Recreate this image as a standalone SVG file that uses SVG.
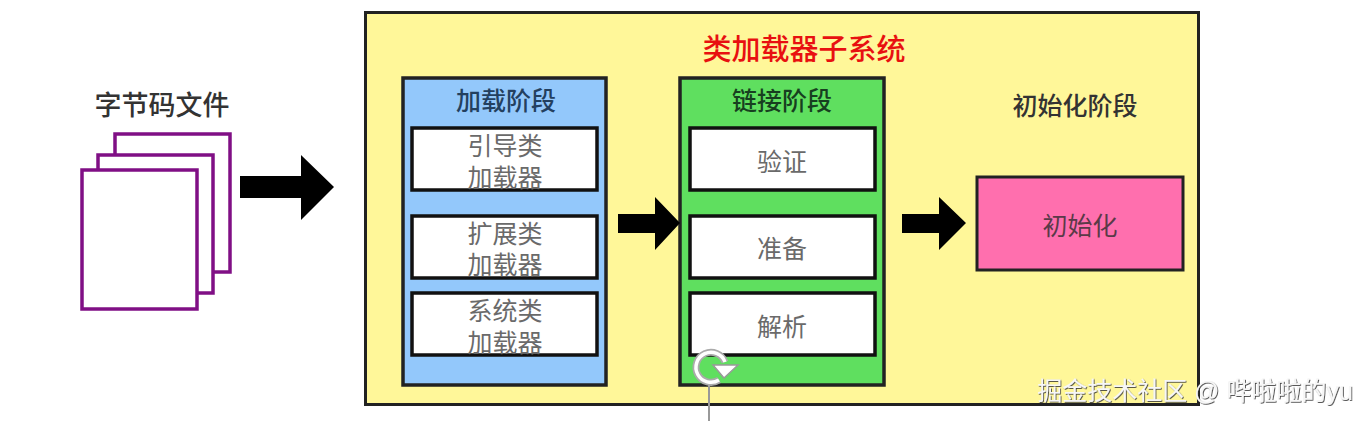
<svg xmlns="http://www.w3.org/2000/svg" width="1367" height="421" viewBox="0 0 1367 421">
<defs><filter id="shadow" x="-5%" y="-20%" width="110%" height="150%"><feDropShadow dx="0.800" dy="0.800" stdDeviation="0.700" flood-color="#333"/></filter></defs>
<style>
text{font-family:"Liberation Sans","Noto Sans CJK SC",sans-serif;text-anchor:middle;fill:#404040}
.h{font-size:25px;font-weight:500;fill:#333}
.b{font-size:25px;fill:#6a6a6a}
.box{fill:#fff;stroke:#111;stroke-width:3.500}
.panel{stroke:#222;stroke-width:3.500}
.page{fill:#fff;stroke:#800f85;stroke-width:3.500}
.arr{fill:#000}
</style>
<rect width="1367" height="421" fill="#fff"/>
<g id="files">
<rect class="page" x="115" y="134" width="115" height="138"/>
<rect class="page" x="98" y="155" width="115" height="138"/>
<rect class="page" x="82" y="170" width="115" height="139"/>
<text class="h" x="162" y="115" style="font-size:27px">字节码文件</text>
</g>
<g id="subsystem">
<rect x="365.500" y="12.500" width="833" height="392" fill="#fff799" stroke="#222" stroke-width="3"/>
<text x="804" y="60" font-size="29" font-weight="500" style="fill:#e81010">类加载器子系统</text>
</g>
<g id="load">
<rect class="panel" x="403" y="78" width="203" height="307" fill="#93c8fb"/>
<text class="h" x="506" y="110" style="fill:#23405f">加载阶段</text>
<rect class="box" x="412" y="128" width="185" height="62"/>
<text class="b" x="505" y="155">引导类</text><text class="b" x="505" y="187">加载器</text>
<rect class="box" x="412" y="216" width="185" height="62"/>
<text class="b" x="505" y="243">扩展类</text><text class="b" x="505" y="274">加载器</text>
<rect class="box" x="412" y="293" width="185" height="62"/>
<text class="b" x="505" y="320">系统类</text><text class="b" x="505" y="352">加载器</text>
</g>
<g id="link">
<rect class="panel" x="680" y="78" width="204" height="307" fill="#5fdf5f"/>
<text class="h" x="782" y="110" style="fill:#173f20">链接阶段</text>
<rect class="box" x="690" y="128" width="185" height="62"/>
<text class="b" x="782" y="171">验证</text>
<rect class="box" x="690" y="216" width="185" height="62"/>
<text class="b" x="782" y="258">准备</text>
<rect class="box" x="690" y="293" width="185" height="62"/>
<text class="b" x="782" y="336">解析</text>
</g>
<g id="init">
<text class="h" x="1075" y="115">初始化阶段</text>
<rect x="977" y="177" width="206" height="93" fill="#ff6fae" stroke="#222" stroke-width="3"/>
<text class="b" x="1080" y="235" style="fill:#5a3a48">初始化</text>
</g>
<g id="connectors">
<polygon class="arr" points="240,176 301,176 301,155 334,187 301,220 301,198 240,198"/>
<polygon class="arr" points="618,214 655,214 655,197 680,223 655,250 655,233 618,233"/>
<polygon class="arr" points="902,214 939,214 939,197 966,223 939,250 939,233 902,233"/>
</g>
<g id="cursor">
<line x1="709" y1="384" x2="709" y2="421" stroke="#999" stroke-width="2"/>
<path d="M719 380 A15 15 0 1 1 725 362" fill="none" stroke="#aaa" stroke-width="7"/>
<path d="M719 380 A15 15 0 1 1 725 362" fill="none" stroke="#fff" stroke-width="3.500"/>
<polygon points="713,365 738,365 724,378" fill="#fff" stroke="#999" stroke-width="1.500"/>
</g>
<g id="watermark" filter="url(#shadow)">
<text x="1195" y="400" font-size="25" style="fill:#f7f7f7">掘金技术社区 @ 哔啦啦的yu</text>
</g>
</svg>
